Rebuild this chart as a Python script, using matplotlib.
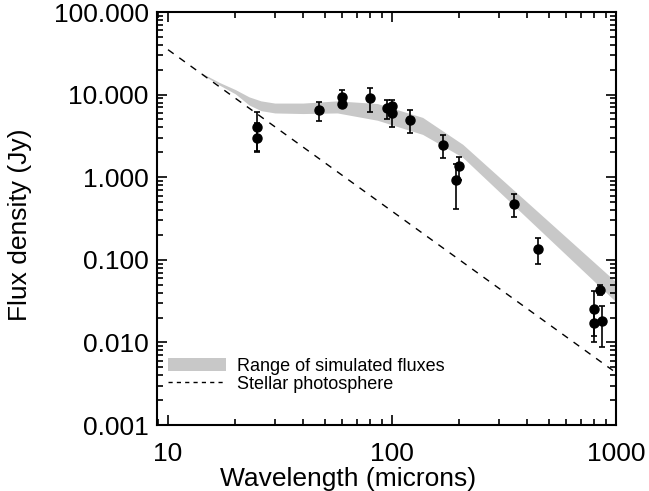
import numpy as np
import matplotlib
matplotlib.use("Agg")
import matplotlib.pyplot as plt
from matplotlib.patches import Patch
from matplotlib.lines import Line2D
from matplotlib.ticker import FixedLocator, FuncFormatter, LogLocator, NullFormatter

plt.rcParams['font.family'] = ['Liberation Sans', 'DejaVu Sans']

# observed photometry (wavelength in microns, flux in Jy, error bar low/high)
obs_wl = [25, 25, 47, 60, 60, 80, 95, 100, 100, 120, 169, 200, 193, 351, 449, 850, 798, 798, 865]
obs_flux = [4.1, 3.0, 6.47, 9.4, 7.8, 9.1, 6.8, 7.2, 6.0, 4.9, 2.45, 1.35, 0.92, 0.48, 0.136,
            0.043, 0.0257, 0.0174, 0.0184]
obs_lo = [2.1, 2.0, 4.86, 8.0, 7.1, 6.2, 5.0, 5.9, 4.1, 3.4, 1.69, 0.93, 0.41, 0.33, 0.089,
          0.037, 0.012, 0.0102, 0.0087]
obs_hi = [6.1, 4.5, 8.07, 11.3, 9.0, 12.1, 8.7, 8.5, 7.3, 6.5, 3.24, 1.76, 1.43, 0.635, 0.182,
          0.049, 0.0415, 0.025, 0.0277]

# range of simulated fluxes
band_wl = [14, 17, 20, 23, 26, 30, 40, 57, 86, 137, 207, 1000]
band_hi = [18.5, 14, 11.5, 9.4, 8.4, 7.9, 7.9, 8.4, 7.8, 5.3, 2.5, 0.054]
band_lo = [18.0, 13, 10.2, 7.5, 6.4, 6.0, 5.9, 6.0, 4.9, 3.3, 1.74, 0.031]

# stellar photosphere
star_wl = [10, 1000]
star_flux = [35, 0.0043]

fig = plt.figure(figsize=(6.49, 4.91), dpi=100)
ax = fig.add_axes([0.2419, 0.1344, 0.7072, 0.8411])

ax.fill_between(band_wl, band_lo, band_hi, color='#c8c8c8', linewidth=0)
ax.plot(star_wl, star_flux, color='black', linewidth=1, linestyle=(0, (5, 5)))

obs_wl = np.array(obs_wl)
obs_flux = np.array(obs_flux)
yerr = [obs_flux - np.array(obs_lo), np.array(obs_hi) - obs_flux]
ax.errorbar(obs_wl, obs_flux, yerr=yerr, fmt='o', color='black', markersize=6.5,
            elinewidth=1.2, capsize=2.5, capthick=1.2)

ax.set_xscale('log')
ax.set_yscale('log')
ax.set_xlim(8.93, 1000)
ax.set_ylim(0.001, 100)

ax.xaxis.set_major_locator(FixedLocator([10, 100, 1000]))
ax.xaxis.set_major_formatter(FuncFormatter(lambda v, p: '%d' % round(v)))
ax.xaxis.set_minor_locator(LogLocator(base=10, subs=np.arange(2, 10)))
ax.xaxis.set_minor_formatter(NullFormatter())
ax.yaxis.set_major_locator(FixedLocator([0.001, 0.01, 0.1, 1, 10, 100]))
ax.yaxis.set_major_formatter(FuncFormatter(lambda v, p: '%.3f' % v))
ax.yaxis.set_minor_locator(LogLocator(base=10, subs=np.arange(2, 10)))
ax.yaxis.set_minor_formatter(NullFormatter())

ax.tick_params(which='both', direction='in', top=True, right=True, width=1.2)
ax.tick_params(which='major', length=7, labelsize=19)
ax.tick_params(axis='x', which='major', pad=12)
ax.tick_params(axis='y', which='major', pad=6)
ax.tick_params(which='minor', length=4)
for s in ax.spines.values():
    s.set_linewidth(1.5)

# axis titles placed like the original (x title sits left of centre)
fig.text(348 / 649, 1 - 486 / 491, 'Wavelength (microns)', fontsize=19,
         ha='center', va='baseline')
fig.text(20 / 649, 1 - 225 / 491, 'Flux density (Jy)', fontsize=19,
         ha='center', va='center', rotation=90)

handles = [Patch(facecolor='#c8c8c8', edgecolor='none'),
           Line2D([0], [0], color='black', linewidth=1, linestyle=(0, (3, 3)))]
ax.legend(handles, ['Range of simulated fluxes', 'Stellar photosphere'], loc='lower left',
          bbox_to_anchor=(0.024, 0.078), frameon=False, fontsize=13, handlelength=3.2,
          handletextpad=0.6, labelspacing=0.05, borderpad=0, borderaxespad=0)

fig.savefig('out.png', dpi=100)
